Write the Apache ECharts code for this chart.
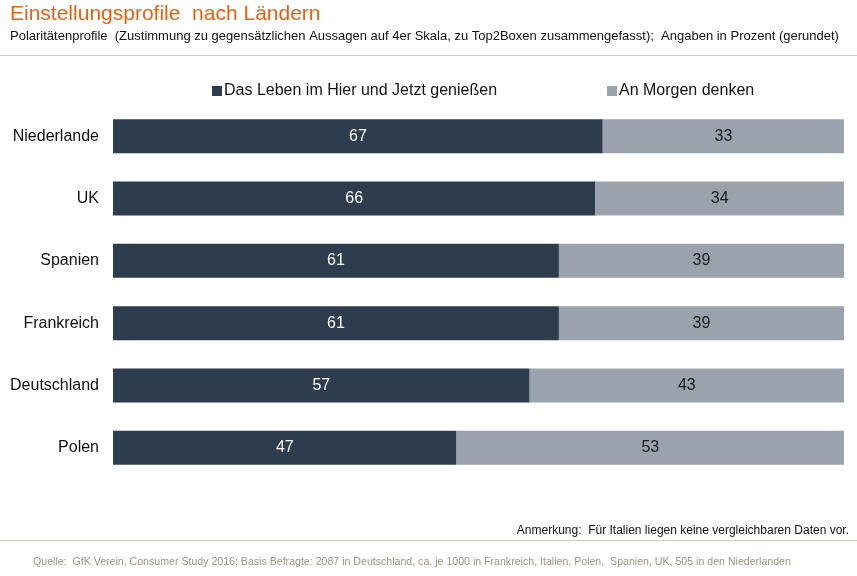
<!DOCTYPE html>
<html lang="de">
<head>
    <meta charset="UTF-8">
    <title>Einstellungsprofile nach Ländern</title>
    <script src="https://cdn.jsdelivr.net/npm/echarts@6/dist/echarts.min.js"></script>
    <style>
        html, body { margin: 0; padding: 0; background: #fff; }
    </style>
</head>
<body>
    <div id="main" style="width: 857px;height:576px;"></div>
    <script>
        // Daten
        var countries = ['Niederlande', 'UK', 'Spanien', 'Frankreich', 'Deutschland', 'Polen'];
        var seriesNames = ['Das Leben im Hier und Jetzt genießen', 'An Morgen denken'];
        var leben = [67, 66, 61, 61, 57, 47];
        var morgen = [33, 34, 39, 39, 43, 53];

        var darkColor = '#2e3d4d';
        var lightColor = '#9aa3ad';
        var lineColor = '#d3cbbd';
        var narrow = '"Liberation Sans Narrow", "Liberation Sans", Arial, sans-serif';
        var normal = '"Liberation Sans", Arial, sans-serif';

        var myChart = echarts.init(document.getElementById('main'));

        var option = {
            backgroundColor: '#fff',
            animation: false,
            title: [{
                text: 'Einstellungsprofile  nach Ländern',
                left: 5,
                top: -1,
                textStyle: { color: '#e8620e', fontFamily: narrow, fontSize: 21, fontWeight: 'normal' }
            }, {
                text: 'Polaritätenprofile  (Zustimmung zu gegensätzlichen Aussagen auf 4er Skala, zu Top2Boxen zusammengefasst);  Angaben in Prozent (gerundet)',
                left: 5,
                top: 25,
                textStyle: { color: '#111', fontFamily: narrow, fontSize: 13, fontWeight: 'normal' }
            }],
            legend: [{
                data: [seriesNames[0]],
                left: 207,
                top: 78,
                itemWidth: 10,
                itemHeight: 10,
                icon: 'rect',
                textStyle: { color: '#111', fontFamily: normal, fontSize: 16, padding: [0, 0, 0, -3] }
            }, {
                data: [seriesNames[1]],
                left: 602,
                top: 78,
                itemWidth: 10,
                itemHeight: 10,
                icon: 'rect',
                textStyle: { color: '#111', fontFamily: normal, fontSize: 16, padding: [0, 0, 0, -3] }
            }],
            grid: {
                left: 113,
                right: 13,
                top: 105,
                bottom: 97,
                containLabel: false
            },
            xAxis: {
                type: 'value',
                min: 0,
                max: 100,
                show: false
            },
            yAxis: {
                type: 'category',
                data: countries,
                inverse: true,
                axisLine: { show: false },
                axisTick: { show: false },
                axisLabel: { color: '#111', fontFamily: normal, fontSize: 16, margin: 14, padding: [3, 0, 0, 0] }
            },
            series: [{
                name: seriesNames[0],
                type: 'bar',
                stack: 'total',
                data: leben,
                barWidth: 34,
                itemStyle: { color: darkColor },
                label: { show: true, position: 'inside', color: '#fff', fontFamily: normal, fontSize: 16, padding: [3, 0, 0, 0] }
            }, {
                name: seriesNames[1],
                type: 'bar',
                stack: 'total',
                data: morgen,
                barWidth: 34,
                itemStyle: { color: lightColor },
                label: { show: true, position: 'inside', color: '#1a1a1a', fontFamily: normal, fontSize: 16, padding: [3, 0, 0, 0] }
            }],
            graphic: [{
                type: 'rect',
                shape: { x: 0, y: 55, width: 857, height: 1 },
                style: { fill: lineColor }
            }, {
                type: 'rect',
                shape: { x: 0, y: 540, width: 857, height: 1 },
                style: { fill: lineColor }
            }, {
                type: 'text',
                right: 8,
                top: 525,
                style: { text: 'Anmerkung:  Für Italien liegen keine vergleichbaren Daten vor.', fill: '#111', font: '12px ' + narrow }
            }, {
                type: 'text',
                left: 33,
                top: 557,
                style: { text: 'Quelle:  GfK Verein, Consumer Study 2016; Basis Befragte: 2087 in Deutschland, ca. je 1000 in Frankreich, Italien, Polen,  Spanien, UK, 505 in den Niederlanden', fill: '#a09383', font: '10.6px ' + narrow }
            }]
        };
        myChart.setOption(option);
    </script>
</body>
</html>
